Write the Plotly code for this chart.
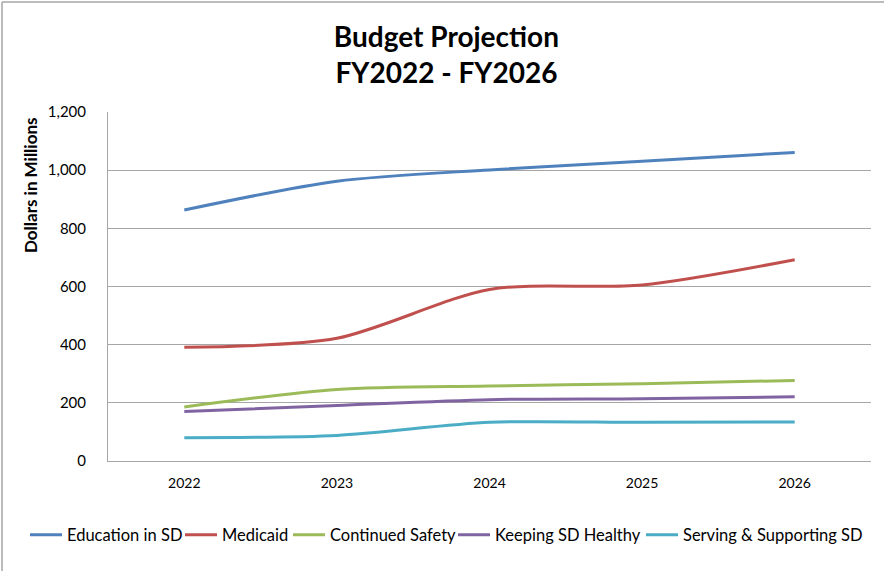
import plotly.graph_objects as go

years = ["2022", "2023", "2024", "2025", "2026"]
education = [863, 962, 1001, 1031, 1061]
medicaid = [391, 422, 590, 605, 692]
safety = [186, 246, 258, 266, 277]
healthy = [170, 191, 211, 214, 221]
serving = [80, 88, 133, 133, 134]

series = [
    ("Education in SD", education, "#4F81BD"),
    ("Medicaid", medicaid, "#C0504D"),
    ("Continued Safety", safety, "#9BBB59"),
    ("Keeping SD Healthy", healthy, "#8064A2"),
    ("Serving & Supporting SD", serving, "#4BACC6"),
]
legend_text_x = [67, 222, 330, 495, 683]  # where each legend label starts, px

FONT = "Lato"
W, H = 884, 571
L, R, T, B = 108, 13, 112, 110
pw, ph = W - L - R, H - T - B
SYM = 32

def px(x):
    return (x - L) / pw

def py(y):
    return (H - B - y) / ph

fig = go.Figure()
legend_layouts = {}
for i, (name, vals, col) in enumerate(series):
    lname = "legend" if i == 0 else f"legend{i + 1}"
    fig.add_trace(go.Scatter(x=years, y=vals, name=name, mode="lines", legend=lname,
                             line=dict(color=col, width=3, shape="spline", smoothing=0.8)))
    legend_layouts[lname] = dict(orientation="h", xref="container", yref="container",
                                 x=(legend_text_x[i] - SYM - 10) / W, xanchor="left",
                                 y=1 - 535 / H, yanchor="middle",
                                 font=dict(family=FONT, size=16.5), itemwidth=SYM,
                                 bgcolor="rgba(0,0,0,0)", borderwidth=0)

fig.update_layout(
    width=W, height=H,
    margin=dict(l=L, r=R, t=T, b=B, autoexpand=False),
    paper_bgcolor="white", plot_bgcolor="white",
    font=dict(family=FONT, color="black", size=14),
    title=dict(text="<b>Budget Projection<br>FY2022 - FY2026</b>",
               x=0.505, xanchor="center", y=0.918, yanchor="top",
               font=dict(family=FONT, size=28, color="black")),
    showlegend=True,
    **legend_layouts,
    xaxis=dict(type="category", showgrid=False, showline=True, linecolor="#a6a6a6",
               linewidth=1, ticks="", tickfont=dict(size=14, family=FONT),
               ticklabelstandoff=9, range=[-0.5, 4.5], automargin=False),
    yaxis=dict(range=[0, 1200], dtick=200, tickformat=",", showgrid=True,
               gridcolor="#a6a6a6", gridwidth=1, showline=True, linecolor="#a6a6a6",
               zeroline=False, ticks="", ticklabelstandoff=18,
               tickfont=dict(size=15, family=FONT), automargin=False),
    annotations=[dict(text="<b>Dollars in Millions</b>", xref="paper", yref="paper",
                      x=px(30), y=py(186), xanchor="center", yanchor="middle",
                      textangle=-90, showarrow=False,
                      font=dict(size=17, family=FONT, color="black"))],
    shapes=[
        dict(type="line", xref="paper", yref="paper", x0=px(2), x1=px(884), y0=py(2), y1=py(2),
             line=dict(color="#a6a6a6", width=1.5)),
        dict(type="line", xref="paper", yref="paper", x0=px(2), x1=px(2), y0=py(2), y1=py(571),
             line=dict(color="#a6a6a6", width=1.5)),
    ],
)

fig.write_html("out.html", config={"displayModeBar": False},
               post_script="document.body.style.margin='0';document.body.style.padding='0';")
